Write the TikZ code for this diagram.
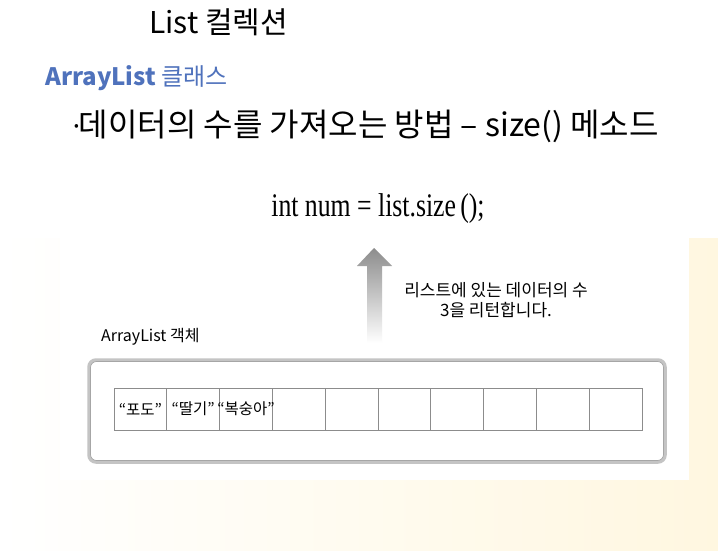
\documentclass[tikz,border=0pt]{standalone}
\usepackage{fontspec}
\setmainfont{Noto Sans CJK KR}
\newfontfamily\codefont{Liberation Serif}
\definecolor{titleblue}{RGB}{79,114,188}
\definecolor{paper}{RGB}{255,247,224}
\definecolor{cellline}{RGB}{140,140,140}
\definecolor{boxline}{RGB}{196,196,196}
\tikzset{
  celltext/.style={inner sep=0pt,font=\fontsize{15.5}{15.5}\selectfont},
  note/.style={inner sep=0pt,font=\fontsize{17}{20}\selectfont,align=center}
}

\begin{document}
\begin{tikzpicture}[x=1pt,y=-1pt]
    \useasboundingbox (0,0) rectangle (718,551);
    \fill[white] (0,0) rectangle (718,551);
    \shade[left color=white,right color=paper] (0,238) rectangle (718,551);
    \fill[white] (60,238) rectangle (689,480);
    % titles
    \node[anchor=west,inner sep=0pt,font=\fontsize{30}{30}\selectfont] (title) at (149,22) {List 컬렉션};
    \node[anchor=west,inner sep=0pt,text=titleblue,font=\fontsize{24}{24}\selectfont] (sub) at (45,78) {\textbf{ArrayList} 클래스};
    \node[anchor=west,inner sep=0pt,font=\fontsize{32}{32}\selectfont] (item) at (74,126) {\raisebox{6pt}{\fontsize{14}{14}\selectfont •}데이터의 수를 가져오는 방법 -- size() 메소드};
    % code line
    \node[inner sep=0pt,font=\codefont\fontsize{33}{33}\selectfont] (code) at (378,209) {\scalebox{0.78}[1]{int num = list.size\,();}};
    % arrow
    \shade[top color=black!45,bottom color=white]
        (367,343) -- (367,266) -- (357,266) -- (374,248) -- (392,266) -- (382,266) -- (382,343) -- cycle;
    \node[note] (ret) at (496,300) {리스트에 있는 데이터의 수\\3을 리턴합니다.};
    \node[note,anchor=west,font=\fontsize{16}{16}\selectfont] (obj) at (101,337) {ArrayList 객체};
    % ArrayList box
    \draw[boxline,line width=3.5pt,rounded corners=7pt] (89,360) rectangle (665,462);
    \draw[black!35,line width=0.6pt,rounded corners=6pt] (90.5,361.5) rectangle (663.5,460.5);
    \foreach \i in {0,...,9}{
        \draw[cellline,line width=0.7pt] (114+52.8*\i,388) rectangle (166.8+52.8*\i,430);
    }
    \node[celltext] (c1) at (140.4,409) {“포도”};
    \node[celltext] (c2) at (193.2,409) {“딸기”};
    \node[celltext] (c3) at (246,409) {“복숭아”};
\end{tikzpicture}
\end{document}
